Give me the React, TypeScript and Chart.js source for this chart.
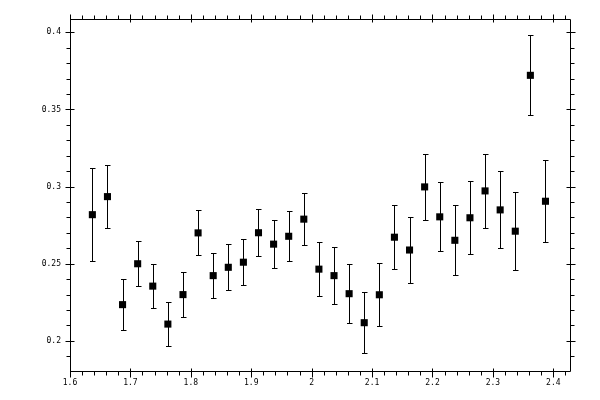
import React, { useEffect, useRef } from "react";
import { Chart, registerables } from "chart.js";

Chart.register(...registerables);

const X_VALUES = [1.637, 1.662, 1.687, 1.712, 1.737, 1.762, 1.787, 1.812, 1.837, 1.862, 1.887, 1.912, 1.937, 1.962, 1.987, 2.012, 2.037, 2.062, 2.087, 2.112, 2.137, 2.162, 2.187, 2.212, 2.237, 2.262, 2.287, 2.312, 2.337, 2.362, 2.387];
const Y_VALUES = [0.2818, 0.2935, 0.2235, 0.25, 0.2355, 0.2109, 0.23, 0.27, 0.2423, 0.2477, 0.251, 0.2701, 0.2627, 0.2678, 0.2789, 0.2465, 0.2423, 0.2306, 0.2118, 0.2299, 0.2672, 0.2589, 0.2998, 0.2804, 0.2652, 0.2798, 0.2972, 0.2849, 0.2711, 0.3721, 0.2905];
const Y_ERRORS = [0.0302, 0.0205, 0.0166, 0.0146, 0.0143, 0.0143, 0.0147, 0.0146, 0.0146, 0.0149, 0.0149, 0.0152, 0.0156, 0.0162, 0.0167, 0.0175, 0.0185, 0.0191, 0.0198, 0.0204, 0.0208, 0.0213, 0.0216, 0.0223, 0.0227, 0.0236, 0.0242, 0.0249, 0.0253, 0.0259, 0.0266];

const X_TICKS = [1.6, 1.7, 1.8, 1.9, 2, 2.1, 2.2, 2.3, 2.4];
const X_TICK_LABELS = ["1.6", "1.7", "1.8", "1.9", "2", "2.1", "2.2", "2.3", "2.4"];
const Y_TICKS = [0.2, 0.25, 0.3, 0.35, 0.4];
const Y_TICK_LABELS = ["0.2", "0.25", "0.3", "0.35", "0.4"];
const X_MIN = 1.6;
const X_MAX = 2.4276;
const Y_MIN = 0.1805;
const Y_MAX = 0.4086;
const X_MINOR_STEP = 0.02;
const Y_MINOR_STEP = 0.01;

const FONT = { family: "'DejaVu Sans Mono', monospace", size: 8 };

const errorBarPlugin = {
  id: "errorBars",
  afterDatasetsDraw(chart: any) {
    const ctx = chart.ctx;
    const xs = chart.scales.x;
    const ys = chart.scales.y;
    ctx.save();
    ctx.strokeStyle = "#000";
    ctx.lineWidth = 1;
    X_VALUES.forEach((xv, i) => {
      const px = Math.round(xs.getPixelForValue(xv)) + 0.5;
      const top = Math.round(ys.getPixelForValue(Y_VALUES[i] + Y_ERRORS[i])) + 0.5;
      const bot = Math.round(ys.getPixelForValue(Y_VALUES[i] - Y_ERRORS[i])) + 0.5;
      ctx.beginPath();
      ctx.moveTo(px, top);
      ctx.lineTo(px, bot);
      ctx.moveTo(px - 2.5, top);
      ctx.lineTo(px + 3, top);
      ctx.moveTo(px - 2.5, bot);
      ctx.lineTo(px + 3, bot);
      ctx.stroke();
    });
    ctx.restore();
  },
};

const framePlugin = {
  id: "frameTicks",
  afterDraw(chart: any) {
    const ctx = chart.ctx;
    const { left, right, top, bottom } = chart.chartArea;
    const xs = chart.scales.x;
    const ys = chart.scales.y;
    const L = Math.round(left) + 0.5;
    const R = Math.round(right) + 0.5;
    const T = Math.round(top) + 0.5;
    const B = Math.round(bottom) + 0.5;
    ctx.save();
    ctx.strokeStyle = "#000";
    ctx.lineWidth = 1;
    ctx.beginPath();
    ctx.rect(L, T, R - L, B - T);
    X_TICKS.forEach((v) => {
      const p = Math.round(xs.getPixelForValue(v)) + 0.5;
      ctx.moveTo(p, B - 3);
      ctx.lineTo(p, B + 6);
      ctx.moveTo(p, T + 3);
      ctx.lineTo(p, T - 5);
    });
    for (let k = 0; ; k++) {
      const v = X_MIN + k * X_MINOR_STEP;
      if (v > X_MAX) break;
      const p = Math.round(xs.getPixelForValue(v)) + 0.5;
      ctx.moveTo(p, B);
      ctx.lineTo(p, B + 4);
      ctx.moveTo(p, T);
      ctx.lineTo(p, T - 4);
    }
    Y_TICKS.forEach((v) => {
      const p = Math.round(ys.getPixelForValue(v)) + 0.5;
      ctx.moveTo(L - 5, p);
      ctx.lineTo(L + 4, p);
      ctx.moveTo(R - 4, p);
      ctx.lineTo(R + 5, p);
    });
    for (let k = 0; ; k++) {
      const v = 0.19 + k * Y_MINOR_STEP;
      if (v > Y_MAX) break;
      const p = Math.round(ys.getPixelForValue(v)) + 0.5;
      ctx.moveTo(L - 4, p);
      ctx.lineTo(L, p);
      ctx.moveTo(R, p);
      ctx.lineTo(R + 4, p);
    }
    ctx.stroke();
    ctx.restore();
  },
};

export default function App() {
  const ref = useRef<HTMLCanvasElement>(null);
  useEffect(() => {
    document.body.style.margin = "0";
    const canvas = ref.current;
    if (!canvas) return;
    const chart = new Chart(canvas, {
      type: "scatter",
      data: {
        datasets: [
          {
            data: X_VALUES.map((x, i) => ({ x, y: Y_VALUES[i] })),
            pointStyle: "rect",
            pointRadius: 5,
            pointBackgroundColor: "#000",
            pointBorderWidth: 0,
            pointBorderColor: "#000",
            showLine: false,
          },
        ],
      },
      options: {
        responsive: false,
        animation: false,
        devicePixelRatio: 1,
        layout: { padding: { top: 19, right: 30, left: 0, bottom: 0 } },
        plugins: { legend: { display: false }, tooltip: { enabled: false } },
        scales: {
          x: {
            type: "linear",
            min: X_MIN,
            max: X_MAX,
            grid: { display: false, drawTicks: false },
            border: { display: false },
            afterBuildTicks: (s: any) => {
              s.ticks = X_TICKS.map((v) => ({ value: v }));
            },
            afterFit: (s: any) => {
              s.height = 29;
            },
            ticks: {
              autoSkip: false,
              maxRotation: 0,
              padding: 7,
              color: "#000",
              font: FONT,
              callback: (v: any) => {
                const i = X_TICKS.indexOf(Number(v));
                return i >= 0 ? X_TICK_LABELS[i] : "";
              },
            },
          },
          y: {
            type: "linear",
            min: Y_MIN,
            max: Y_MAX,
            grid: { display: false, drawTicks: false },
            border: { display: false },
            afterBuildTicks: (s: any) => {
              s.ticks = Y_TICKS.map((v) => ({ value: v }));
            },
            afterFit: (s: any) => {
              s.width = 70;
            },
            ticks: {
              autoSkip: false,
              padding: 9,
              color: "#000",
              font: FONT,
              callback: (v: any) => {
                const i = Y_TICKS.indexOf(Number(v));
                return i >= 0 ? Y_TICK_LABELS[i] : "";
              },
            },
          },
        },
      },
      plugins: [errorBarPlugin, framePlugin],
    });
    return () => chart.destroy();
  }, []);
  return (
    <div style={{ width: 600, height: 400, background: "#fff" }}>
      <canvas ref={ref} width={600} height={400} />
    </div>
  );
}
